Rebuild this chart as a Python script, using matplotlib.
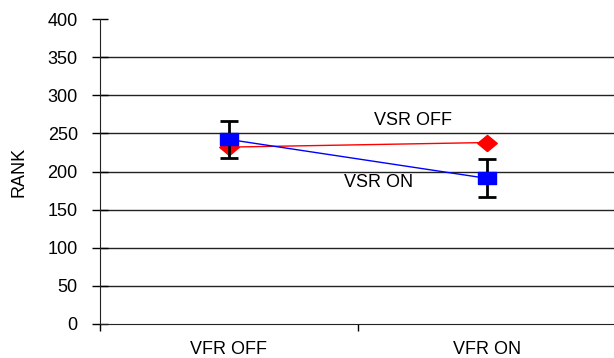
import matplotlib
matplotlib.use("Agg")
import matplotlib.pyplot as plt
import numpy as np

categories = ["VFR OFF", "VFR ON"]
vsr_off = [232, 238]
vsr_on = [242, 191]
vsr_on_err = [24, 25]
yticks = [0, 50, 100, 150, 200, 250, 300, 350, 400]

plt.rcParams['font.family'] = ['Liberation Sans', 'DejaVu Sans']
FS = 13

fig = plt.figure(figsize=(6.14, 3.58), dpi=100)
ax = fig.add_axes([100/614, 34/358, 516/614, 305/358])

x = np.arange(len(categories))
for yv in yticks[1:-1]:
    ax.axhline(yv, color='#222222', lw=1.0, zorder=1)

rect = [(-1.4, -1), (1.4, -1), (1.4, 1), (-1.4, 1), (-1.4, -1)]
diam = [(0, -1), (1.2, 0), (0, 1), (-1.2, 0), (0, -1)]

ax.plot(x, vsr_off, color='red', lw=1.0, marker=diam, markersize=14,
        markerfacecolor='red', markeredgecolor='red', zorder=3)
ax.errorbar(x, vsr_on, yerr=vsr_on_err, fmt='none', ecolor='black',
            elinewidth=2, capsize=6.5, capthick=2, zorder=4)
ax.plot(x, vsr_on, color='blue', lw=1.0, marker=rect, markersize=13,
        markerfacecolor='blue', markeredgecolor='blue', zorder=5)

ax.text(0.713, 267, "VSR OFF", ha='center', va='center', fontsize=FS)
ax.text(0.581, 185, "VSR ON", ha='center', va='center', fontsize=FS)

ax.set_xlim(-0.5, 1.5)
ax.set_ylim(0, 400)
ax.set_yticks(yticks)
ax.set_xticks(x)
ax.set_xticklabels(categories, fontsize=FS)
ax.set_xticks([-0.5, 0.5, 1.5], minor=True)
ax.tick_params(axis='x', which='major', length=0, pad=12)
ax.tick_params(axis='x', which='minor', length=5, direction='out', width=1)
ax.tick_params(axis='y', length=12, direction='inout', width=1, labelsize=FS, pad=10)
ax.set_ylabel("RANK", fontsize=FS)
ax.yaxis.set_label_coords(-0.140, 0.5)

for s in ['top', 'right']:
    ax.spines[s].set_visible(False)
ax.spines['left'].set_color('#222222')
ax.spines['bottom'].set_color('#222222')

fig.savefig("out.png", dpi=100)
